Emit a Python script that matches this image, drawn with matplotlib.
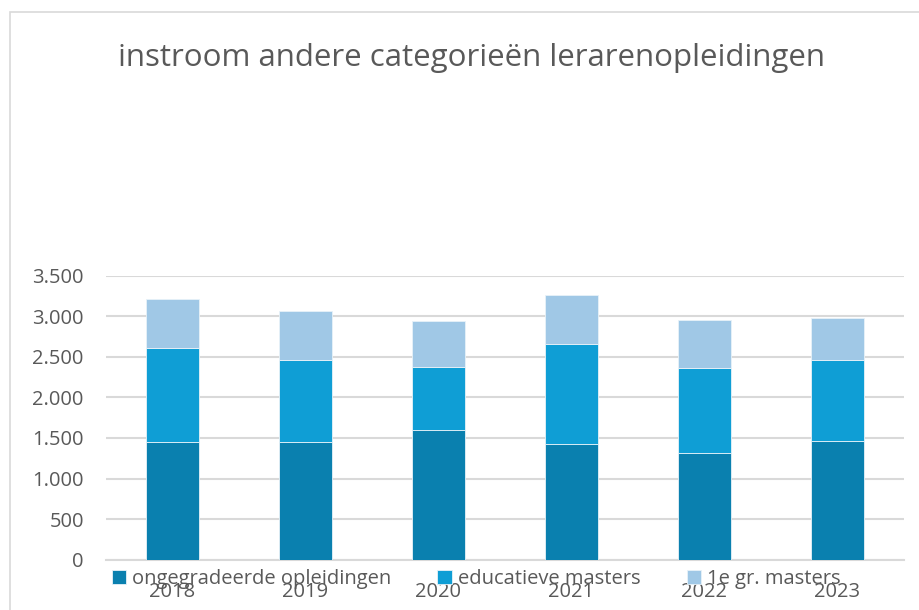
import matplotlib
matplotlib.use("Agg")
import matplotlib.pyplot as plt
from matplotlib.patches import Rectangle
import numpy as np

years = ["2018", "2019", "2020", "2021", "2022", "2023"]
ongegradeerde = [1454, 1454, 1598, 1422, 1319, 1467]
educatieve = [1159, 1007, 777, 1236, 1043, 994]
eerste_graad = [604, 604, 563, 600, 588, 514]
series_names = ["ongegradeerde opleidingen", "educatieve masters", "1e gr. masters"]
colors = ["#0A80AF", "#0F9ED5", "#A0C8E6"]
yticks = [0, 500, 1000, 1500, 2000, 2500, 3000, 3500]
ytick_labels = ["0", "500", "1.000", "1.500", "2.000", "2.500", "3.000", "3.500"]

plt.rcParams['font.family'] = ['Open Sans', 'DejaVu Sans']
grey = "#595959"

fig = plt.figure(figsize=(9.19, 6.10), dpi=100)
ax = fig.add_axes([106/919, 1 - 559.7/610, 798/919, 284/610])

x = np.arange(len(years))
bottom = np.zeros(len(years))
handles = []
for vals, name, c in zip([ongegradeerde, educatieve, eerste_graad], series_names, colors):
    b = ax.bar(x, vals, width=0.4, bottom=bottom, color=c, label=name,
               edgecolor="#E8F2F8", linewidth=0.6, zorder=3)
    handles.append(b)
    bottom += np.array(vals)

ax.set_xlim(-0.5, len(years) - 0.5)
ax.set_ylim(0, 3500)
ax.set_yticks(yticks)
ax.set_yticklabels(ytick_labels)
ax.set_xticks(x)
ax.set_xticklabels(years)
ax.grid(axis='y', color="#D9D9D9", linewidth=1.5, zorder=0)
ax.set_axisbelow(True)
for s in ["top", "right", "left"]:
    ax.spines[s].set_visible(False)
ax.spines["bottom"].set_color("#D9D9D9")
ax.spines["bottom"].set_linewidth(1.5)
ax.tick_params(axis='both', length=0, labelsize=14.5, labelcolor=grey)
ax.tick_params(axis='y', pad=16)
ax.tick_params(axis='x', pad=16)

fig.text(471/919, 1 - 58/610, "instroom andere categorieën lerarenopleidingen",
         ha='center', va='center', fontsize=22.5, color=grey)

leg = fig.legend(handles=handles, labels=series_names, loc='center',
                 bbox_to_anchor=(476/919, 1 - 579/610), ncol=3, frameon=False,
                 fontsize=14.5, labelcolor=grey, handlelength=0.7, handleheight=0.7,
                 handletextpad=0.3, columnspacing=2.3, borderpad=0)

fig.add_artist(Rectangle((10/919, -0.1), 1.2, (1 - 12/610) + 0.1, fill=False,
                         ec="#D9D9D9", lw=1.2, transform=fig.transFigure))

fig.savefig("out.png", dpi=100)
